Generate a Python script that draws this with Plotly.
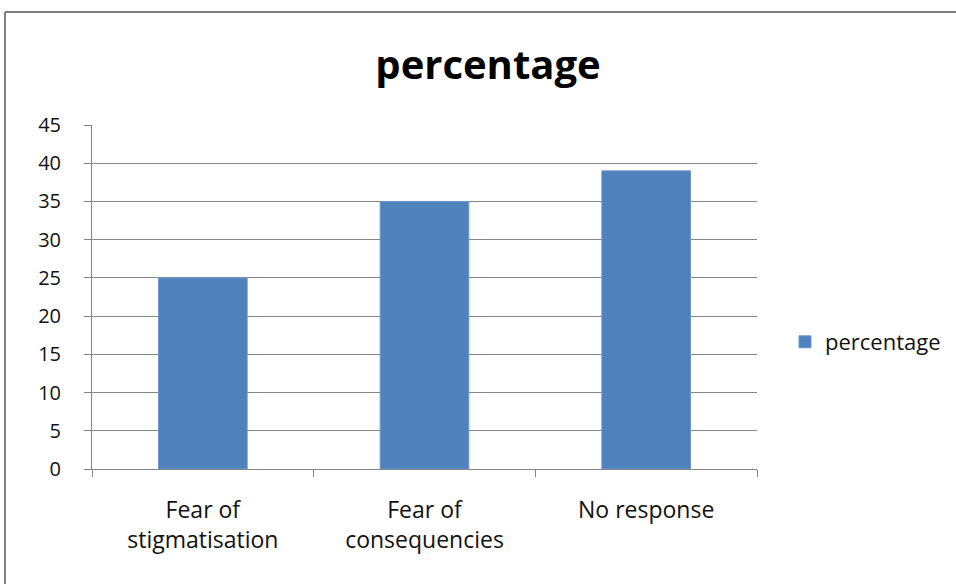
import plotly.graph_objects as go

categories = ["Fear of<br>stigmatisation", "Fear of<br>consequencies", "No response"]
values = [25, 35, 39]
series_name = "percentage"
title_text = "percentage"
y_ticks = [0, 5, 10, 15, 20, 25, 30, 35, 40, 45]

W, H = 956, 584
L, R, T, B = 92, 757, 125, 469
pw, ph = R - L, B - T

fig = go.Figure()
fig.add_trace(go.Bar(
    x=categories, y=values, name=series_name,
    marker=dict(color="#4F81BD", line=dict(color="#6F99CC", width=1)),
    showlegend=True,
))

fig.update_layout(
    width=W, height=H,
    margin=dict(l=L, r=W - R, t=T, b=H - B, pad=0, autoexpand=False),
    paper_bgcolor="white", plot_bgcolor="white",
    font=dict(family="Open Sans", color="#111111"),
    title=dict(text="<b>" + title_text + "</b>", x=488 / W, xanchor="center",
               y=1 - 65 / H, yanchor="middle",
               font=dict(size=40, family="Open Sans", color="black")),
    bargap=0.6,
    showlegend=True,
    legend=dict(x=(785 - L) / pw, xanchor="left", y=(B - 342) / ph, yanchor="middle",
                font=dict(size=22, family="Open Sans", color="#111111"),
                bgcolor="rgba(0,0,0,0)", itemwidth=30),
    xaxis=dict(
        showline=True, linecolor="#868686", linewidth=1,
        ticks="outside", ticklen=7, tickcolor="#868686", tickson="boundaries",
        tickfont=dict(size=23, family="Open Sans", color="#111111"),
        ticklabelstandoff=20, showgrid=False, automargin=False,
    ),
    yaxis=dict(
        range=[0, 45], tickvals=y_ticks, ticktext=[str(v) for v in y_ticks],
        showline=True, linecolor="#868686", linewidth=1,
        ticks="outside", ticklen=7, tickcolor="#868686",
        gridcolor="#868686", gridwidth=1,
        tickfont=dict(size=20, family="Open Sans", color="#111111"),
        ticklabelstandoff=19, zeroline=False, automargin=False,
    ),
    shapes=[
        dict(type="line", xref="paper", yref="paper",
             x0=(5 - L) / pw, x1=(W + 10 - L) / pw,
             y0=(B - 12) / ph, y1=(B - 12) / ph,
             line=dict(color="#7F7F7F", width=2)),
        dict(type="line", xref="paper", yref="paper",
             x0=(5 - L) / pw, x1=(5 - L) / pw,
             y0=(B - 12) / ph, y1=(B - H - 10) / ph,
             line=dict(color="#7F7F7F", width=2)),
    ],
)

fig.write_html("out.html", config={"displayModeBar": False},
               post_script="document.body.style.margin='0';")
